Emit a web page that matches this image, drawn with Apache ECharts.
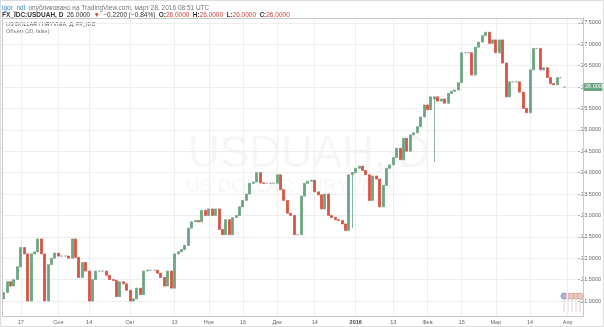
<!DOCTYPE html>
<html><head><meta charset="utf-8">
<script src="https://cdn.jsdelivr.net/npm/echarts@6/dist/echarts.min.js"></script>
<style>html,body{margin:0;padding:0;background:#fff}#c{width:604px;height:327px}</style>
</head><body><div id="c"></div>
<script>
// ---- data ----
const opens = [21.05,21.20,21.45,21.35,21.50,21.80,22.25,22.10,21.00,22.10,
22.15,22.45,22.10,21.00,21.85,22.00,22.12,22.05,22.05,22.05,
22.00,22.45,22.02,21.55,21.90,21.70,21.00,21.50,21.70,21.70,
21.70,21.60,21.50,21.48,21.10,21.45,21.40,21.25,21.00,21.05,
21.30,21.15,21.70,21.72,21.72,21.72,21.65,21.55,21.35,21.70,
21.30,22.10,22.15,22.20,22.30,22.70,22.85,22.88,22.85,23.12,
23.00,23.15,23.00,23.15,22.67,22.55,22.90,22.55,22.95,23.00,
23.20,23.35,23.50,23.75,23.78,24.00,23.76,23.75,23.75,23.75,
23.75,23.95,23.60,23.35,23.05,23.00,22.55,22.55,23.45,23.75,
23.80,23.82,23.55,23.48,23.15,23.50,23.00,22.95,22.90,22.88,
22.80,22.65,23.95,24.00,24.10,24.15,24.05,23.95,23.35,23.92,
23.85,23.20,23.70,24.10,24.18,24.35,24.57,24.30,24.80,24.50,
24.88,24.93,25.07,25.30,25.58,25.47,25.72,25.77,25.67,25.72,
25.62,25.85,25.90,25.93,26.10,26.80,26.80,26.80,26.28,26.93,
27.05,27.20,27.28,27.02,27.10,26.80,27.10,26.56,25.77,26.12,
26.12,26.12,25.88,25.50,25.40,26.40,26.90,26.90,26.40,26.45,
26.22,26.08,26.05,26.22,26.00];
const closes = [21.20,21.45,21.35,21.50,21.80,22.25,22.10,21.00,22.10,22.15,
22.45,22.10,21.00,21.85,22.00,22.12,22.05,22.05,22.05,22.00,
22.45,22.02,21.55,21.90,21.70,21.00,21.50,21.70,21.70,21.70,
21.60,21.50,21.48,21.10,21.45,21.40,21.25,21.00,21.05,21.30,
21.15,21.70,21.72,21.72,21.72,21.65,21.55,21.35,21.70,21.30,
22.10,22.15,22.20,22.30,22.70,22.85,22.88,22.85,23.12,23.00,
23.15,23.00,23.15,22.67,22.55,22.90,22.55,22.95,23.00,23.20,
23.35,23.50,23.75,23.78,24.00,23.76,23.75,23.75,23.75,23.75,
23.95,23.60,23.35,23.05,23.00,22.55,22.55,23.45,23.75,23.80,
23.82,23.55,23.48,23.15,23.50,23.00,22.95,22.90,22.88,22.80,
22.65,23.95,24.00,24.10,24.15,24.05,23.95,23.35,23.92,23.85,
23.20,23.70,24.10,24.18,24.35,24.57,24.30,24.80,24.50,24.88,
24.93,25.07,25.30,25.58,25.47,25.77,25.77,25.67,25.72,25.62,
25.85,25.90,25.93,26.10,26.80,26.80,26.80,26.28,26.93,27.05,
27.20,27.28,27.02,27.10,26.80,27.10,26.56,25.77,26.12,26.12,
26.12,25.88,25.50,25.40,26.40,26.90,26.90,26.40,26.45,26.22,
26.08,26.05,26.22,26.22,26.00];
const wickLows = {102: 22.70, 126: 24.25};
const labelIdx  = [5, 16, 25, 37, 50, 60, 70, 80, 91, 103, 114, 124, 134, 144, 154, 165];
const labelText = ['17','Сен','14','Окт','13','Ноя','16','Дек','14','2016','13','Фев','15','Мар','14','Апр'];
const yTickMin = 21, yTickMax = 27.5, yTickStep = 0.5;
const lastPrice = 26.0;

// ---- layout ----
const SLOTS = 170;
const PANE = {left: 2, right: 583, top: 18, bottom: 316};
const Y_TOP = 22.8, Y_BOT = 301; // pixel rows of yTickMax / yTickMin
const pxPerUnit = (Y_BOT - Y_TOP) / (yTickMax - yTickMin);
const yMinA = yTickMin - (PANE.bottom - Y_BOT) / pxPerUnit;
const yMaxA = yTickMax + (Y_TOP - PANE.top) / pxPerUnit;
const lastY = Y_TOP + (yTickMax - lastPrice) * pxPerUnit;

const cats = [];
for (let i = 0; i < SLOTS; i++) cats.push(String(i));
const rows = opens.map((o, i) => {
  const c = closes[i];
  const lo = wickLows[i] !== undefined ? wickLows[i] : Math.min(o, c);
  return [o, c, lo, Math.max(o, c)];
});
const labelMap = {};
labelIdx.forEach((k, j) => labelMap[k] = labelText[j]);
const isLabel = (idx) => labelMap[idx] !== undefined;

const UP = '#6ba583', DOWN = '#d75442';
const FONT = '"Liberation Sans", Arial, sans-serif';

const chart = echarts.init(document.getElementById('c'), null, {renderer: 'canvas'});
chart.setOption({
  animation: false,
  backgroundColor: '#fff',
  grid: [
    {left: PANE.left, top: PANE.top, width: PANE.right - PANE.left, height: PANE.bottom - PANE.top},
    {left: PANE.left, top: Y_TOP, width: PANE.right - PANE.left, height: Y_BOT - Y_TOP}
  ],
  xAxis: [
    {gridIndex: 0, type: 'category', data: cats, boundaryGap: true,
     axisLine: {show: false}, axisTick: {show: false},
     axisLabel: {interval: (i) => isLabel(i), formatter: (v) => {
        const t = labelMap[+v]; if (t === undefined) return '';
        return t === '2016' ? '{b|' + t + '}' : t; },
       fontSize: 5.5, color: '#666', fontFamily: FONT, margin: 3,
       rich: {b: {fontSize: 5.5, fontWeight: 'bold', color: '#444', fontFamily: FONT}}},
     splitLine: {show: true, interval: (i) => isLabel(i), alignWithLabel: true,
       lineStyle: {color: '#eeeeee', width: 1}}},
    {gridIndex: 1, type: 'category', data: cats, show: false}
  ],
  yAxis: [
    {gridIndex: 0, type: 'value', min: yMinA, max: yMaxA, position: 'right',
     axisLine: {show: true, lineStyle: {color: '#b8b8b8', width: 1}},
     axisTick: {show: false}, axisLabel: {show: false}, splitLine: {show: false}},
    {gridIndex: 1, type: 'value', min: yTickMin, max: yTickMax, interval: yTickStep, position: 'right',
     axisLine: {show: false},
     axisTick: {show: true, length: 2, lineStyle: {color: '#aaa'}},
     axisLabel: {formatter: (v) => v.toFixed(4), fontSize: 5.5, color: '#666', fontFamily: FONT, margin: 3},
     splitLine: {show: true, lineStyle: {color: '#eeeeee', width: 1}}}
  ],
  series: [{
    type: 'candlestick', xAxisIndex: 0, yAxisIndex: 0, data: rows,
    barWidth: 2.5,
    itemStyle: {color: UP, color0: DOWN, borderColor: UP, borderColor0: DOWN,
      borderColorDoji: '#999', borderWidth: 0.8}
  }],
  graphic: [
    {type: 'rect', silent: true, shape: {x: 0.5, y: 0.5, width: 603, height: 326},
     style: {fill: 'none', stroke: '#dcdcdc', lineWidth: 1}, z: -1},
    {type: 'rect', silent: true, shape: {x: PANE.left + 0.5, y: PANE.top + 0.5,
       width: PANE.right - PANE.left, height: PANE.bottom - PANE.top},
     style: {fill: 'none', stroke: '#c8c8c8', lineWidth: 1}, z: 10},
    {type: 'text', left: 300 - 112, top: 133, silent: true, z: -1,
     style: {text: 'USDUAH, D', font: '44px ' + FONT, fill: 'rgba(0,0,0,0.035)'}},
    {type: 'text', left: 186, top: 177, silent: true, z: -1,
     style: {text: 'US DOLLAR / HRYVNIA', font: '19px ' + FONT, fill: 'rgba(0,0,0,0.035)'}},
    {type: 'text', left: 2, top: 2, silent: true,
     style: {text: '{u|igor_ndl} {t|опубликовано на TradingView.com, март 28, 2016 08:51 UTC}',
       rich: {u: {fill: '#3b83c4', font: '6.5px ' + FONT},
              t: {fill: '#777', font: '6.5px ' + FONT}}}},
    {type: 'text', left: 2, top: 9.5, silent: true,
     style: {text: '{k|FX_IDC:USDUAH, D} {d|26.0000} {r|▼} {d|−0.2200 (−0.84%)} {k|O:}{r|26.0000} {k|H:}{r|26.0000} {k|L:}{r|26.0000} {k|C:}{r|26.0000}',
       rich: {k: {fill: '#333', font: 'bold 6.5px ' + FONT},
              d: {fill: '#333', font: '6.5px ' + FONT},
              r: {fill: '#d0453a', font: '6.5px ' + FONT}}}},
    {type: 'text', left: 6, top: 21.5, silent: true,
     style: {text: 'US DOLLAR / HRYVNIA, Д, FX_IDC', font: '5.5px ' + FONT, fill: '#555'}},
    {type: 'text', left: 6, top: 28.5, silent: true,
     style: {text: 'Объем (20, false)', font: '5.5px ' + FONT, fill: '#777'}},
    {type: 'rect', silent: true, z: 20, shape: {x: PANE.right + 0.5, y: lastY - 4, width: 19, height: 8},
     style: {fill: UP}},
    {type: 'text', silent: true, z: 21, left: PANE.right + 2, top: lastY - 3.2,
     style: {text: lastPrice.toFixed(4), font: '5.5px ' + FONT, fill: '#fff'}},
    {type: 'group', silent: true, z: 20, children: [0,1,2,3,4].map(k => ({
      type: 'group', children: [
        {type: 'line', shape: {x1: 564 + k * 4, y1: 299, x2: 564 + k * 4, y2: 312},
         style: {stroke: '#c9a9a9', lineWidth: 0.6}},
        {type: 'circle', shape: {cx: 564 + k * 4, cy: 296, r: 3},
         style: {fill: k === 0 ? '#9fb7e0' : '#efc7c7', stroke: k === 0 ? '#6f8fc8' : '#d59a9a', lineWidth: 0.7}}
      ]}))}
  ]
});
</script>
</body></html>
